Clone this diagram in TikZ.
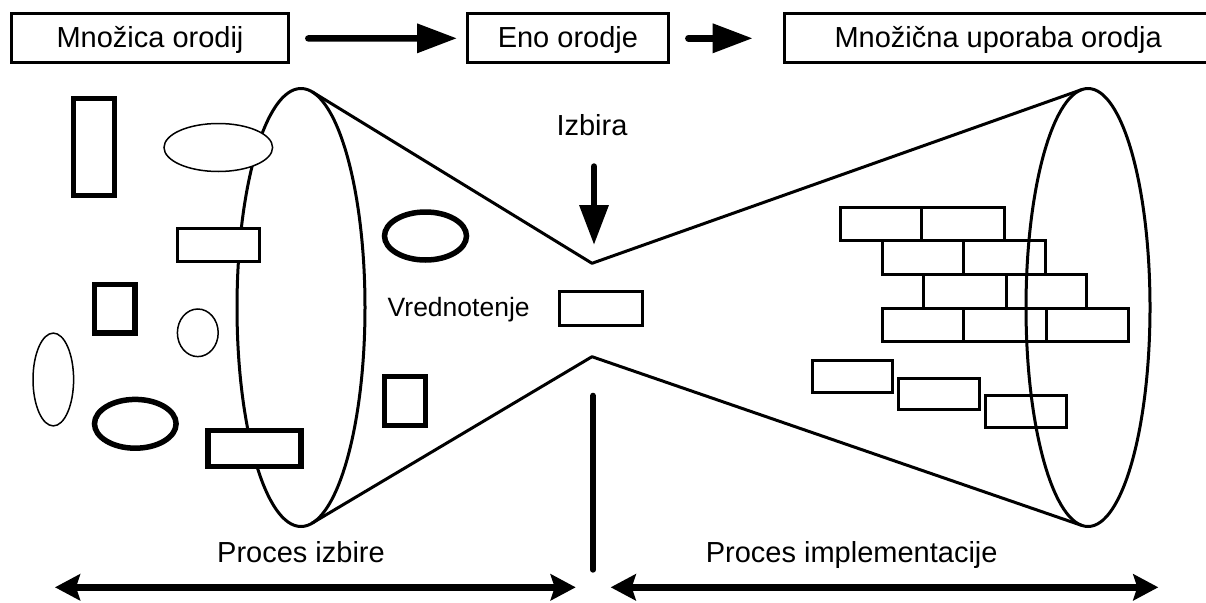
\documentclass[tikz,border=0pt]{standalone}
\usepackage{fontspec}
\setmainfont{Liberation Sans}
\usetikzlibrary{arrows.meta}
\begin{document}
\begin{tikzpicture}[x=1pt,y=-1pt,
  big/.style={font=\fontsize{29}{34}\selectfont},
  boxnode/.style={big, draw, line width=3pt, fill=white, inner sep=0pt,
    text height=21pt, text depth=3pt, minimum height=49pt},
  lbl/.style={big, inner sep=0pt, anchor=base},
  outline/.style={line width=3pt, line join=round},
  thinshape/.style={line width=1.5pt, fill=white},
  boldshape/.style={line width=5.5pt, fill=white},
  midshape/.style={line width=3pt, fill=white},
  brick/.style={line width=3pt},
  flow/.style={line width=6.5pt, line cap=round, -{Triangle[length=40pt,width=28pt]}},
  span/.style={line width=6.5pt,
    {Stealth[length=25pt,width=26pt,inset=4pt]}-{Stealth[length=25pt,width=26pt,inset=4pt]}},
]
\useasboundingbox (0,0) rectangle (1206,602);

% ---- funnel: two cones meeting at a neck ----
\coordinate (lc) at (301,307.5);   % left mouth centre
\coordinate (rc) at (1088,307.5);  % right mouth centre
\coordinate (lt) at (312.3,91.9);
\coordinate (lb) at (312.0,523.2);
\coordinate (rt) at (1081.8,89.6);
\coordinate (rb) at (1082.0,525.5);
\coordinate (neckU) at (592,263.3);
\coordinate (neckL) at (592,356.7);

\draw[outline] (lc) ellipse [x radius=64pt, y radius=219pt];
\draw[outline] (rc) ellipse [x radius=62pt, y radius=219pt];
\draw[outline] (lt) -- (neckU) -- (rt);
\draw[outline] (lb) -- (neckL) -- (rb);

% ---- scattered tools on the left ----
\draw[boldshape] (73.5,98.5) rectangle (114.5,195.5);
\draw[thinshape] (218.3,147.5) ellipse [x radius=54.3pt, y radius=24pt];
\draw[midshape] (177,228.2) rectangle (259.5,261.8);
\draw[boldshape] (94.3,284.3) rectangle (135,333);
\draw[thinshape] (197.8,332.8) ellipse [x radius=20.4pt, y radius=23.8pt];
\draw[thinshape] (53.3,379.5) ellipse [x radius=20.3pt, y radius=46.4pt];
\draw[boldshape] (135.3,423.8) ellipse [x radius=40.8pt, y radius=24.4pt];
\draw[boldshape] (207.8,430.5) rectangle (301.2,466.5);

% ---- tools inside the left cone ----
\draw[boldshape] (425.5,236) ellipse [x radius=41pt, y radius=24pt];
\draw[midshape] (559.8,291.5) rectangle (642.8,325.8);
\draw[boldshape] (384.4,376.7) rectangle (425.6,425.6);

% ---- brick wall in the right cone ----
\foreach \xa/\xb/\ya/\yb in {
  840.5/921.7/207.5/240.5, 921.7/1004/207.5/240.5,
  882/963.3/240.5/274.5, 963.3/1045.5/240.5/274.5,
  923.5/1006/274.5/308.5, 1006/1086.5/274.5/308.5,
  882/963.3/308.5/341.5, 963.3/1046.7/308.5/341.5, 1046.7/1128.5/308.5/341.5,
  812/892/360.8/392, 898.8/979.3/378/409.5, 985.5/1066.3/395.5/427}
  \draw[brick] (\xa,\ya) rectangle (\xb,\yb);

% ---- headline boxes ----
\node[boxnode, minimum width=277pt] (set) at (150,38.4) {Množica orodij};
\node[boxnode, minimum width=201.3pt] (one) at (567.9,38.3) {Eno orodje};
\node[boxnode, minimum width=428pt] (many) at (998.2,38.3) {Množična uporaba orodja};

\draw[flow] ([xshift=18.3pt]set.east) -- ([xshift=-8.7pt]one.west);
\draw[flow] ([xshift=18.3pt]one.east) -- ([xshift=-30pt]many.west);

% ---- labels ----
\node[lbl] (izbira) at (592,135) {Izbira};
\node[lbl, font=\fontsize{26.5}{30}\selectfont] (vred) at (458.7,316.7) {Vrednotenje};
\node[lbl] (pizb) at (301,562.7) {Proces izbire};
\node[lbl] (pimp) at (851.7,562.7) {Proces implementacije};

\draw[flow] ([xshift=2pt,yshift=-31.5pt]izbira.base) -- ([xshift=2pt,yshift=18.3pt]neckU);

% ---- divider and process spans ----
\coordinate (divT) at (593,395.7);
\coordinate (divB) at (593,569.7);
\draw[line width=6pt, line cap=round] (divT) -- (divB);

\coordinate (sA) at (55,587.3);
\coordinate (sB) at (575.7,587.3);
\coordinate (sC) at (610.7,587.3);
\coordinate (sD) at (1158.3,587.3);
\draw[span] (sA) -- (sB);
\draw[span] (sC) -- (sD);
\end{tikzpicture}
\end{document}
